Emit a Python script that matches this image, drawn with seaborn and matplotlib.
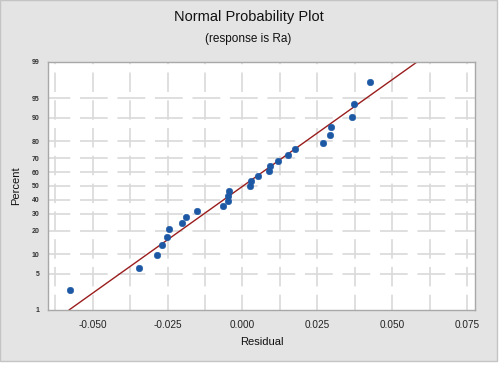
import numpy as np
import pandas as pd
import matplotlib
matplotlib.use("Agg")
import matplotlib.pyplot as plt
from matplotlib.patches import Rectangle
import seaborn as sns
from statistics import NormalDist

# ---- data ----
residual = [-0.0574, -0.0344, -0.0284, -0.0268, -0.0251, -0.0244, -0.0201,
            -0.0188, -0.0151, -0.0064, -0.0048, -0.0048, -0.0044, 0.0026,
            0.0029, 0.0052, 0.0089, 0.0092, 0.0119, 0.0152, 0.0176, 0.0269,
            0.0292, 0.0296, 0.0366, 0.0372, 0.0426]
percent = [2.55, 6.20, 9.85, 13.50, 17.15, 20.80, 24.45, 28.10, 31.75, 35.40,
           39.05, 42.70, 46.35, 50.00, 53.65, 57.30, 60.95, 64.60, 68.25,
           71.90, 75.55, 79.20, 82.85, 86.50, 90.15, 93.80, 97.45]
y_ticks = [1, 5, 10, 20, 30, 40, 50, 60, 70, 80, 90, 95, 99]
x_ticks = [-0.050, -0.025, 0.000, 0.025, 0.050, 0.075]
x_tick_labels = ["-0.050", "-0.025", "0.000", "0.025", "0.050", "0.075"]
x_grid = [-0.0625, -0.0375, -0.0125, 0.0125, 0.0375, 0.0625]

df = pd.DataFrame({"Residual": residual, "Percent": percent})

# normal fit line
nd = NormalDist()
mu = float(np.mean(residual))
sd = float(np.std(residual, ddof=1))
fit_x = np.array([mu + sd * nd.inv_cdf(0.01), mu + sd * nd.inv_cdf(0.99)])
fit_df = pd.DataFrame({"Residual": fit_x,
                       "Percent": [100 * NormalDist(mu, sd).cdf(v) for v in fit_x]})

# probit scale
_ppf = np.vectorize(nd.inv_cdf, otypes=[float])
_cdf = np.vectorize(nd.cdf, otypes=[float])

def fwd(p):
    p = np.clip(np.asarray(p, dtype=float) / 100.0, 1e-9, 1 - 1e-9)
    return _ppf(p)

def inv(z):
    z = np.asarray(z, dtype=float)
    return 100.0 * _cdf(z)

sns.set_theme(style="white")
plt.rcParams["font.family"] = ["Liberation Sans", "DejaVu Sans"]
plt.rcParams["lines.scale_dashes"] = False

W, H = 503, 366
fig = plt.figure(figsize=(W / 100, H / 100), dpi=100)
fig.patch.set_facecolor("white")
fig.patches.append(Rectangle((0, (H - 361) / H), 497 / W, 361 / H,
                             transform=fig.transFigure, facecolor="#e4e4e4",
                             edgecolor="#c4c4c4", linewidth=1.0, zorder=-10))

ax = fig.add_axes([48 / W, 56 / H, 427 / W, 248 / H])
ax.set_facecolor("white")
ax.set_yscale("function", functions=(fwd, inv))

grid_kw = dict(color="#d9d9d9", linewidth=1.2, zorder=0)
for gx in x_ticks + x_grid:
    ax.axvline(gx, linestyle=(3, (14, 6)), **grid_kw)
for gy in y_ticks[1:-1]:
    ax.axhline(gy, linestyle=(4, (20, 7)), **grid_kw)

sns.lineplot(data=fit_df, x="Residual", y="Percent", ax=ax, color="#9a1d1d",
             linewidth=1.0, zorder=2)
sns.scatterplot(data=df, x="Residual", y="Percent", ax=ax, color="#1c58a4",
                s=22, edgecolor="#1c58a4", linewidth=0.4, zorder=3)

ax.set_xlim(-0.0649, 0.0776)
ax.set_ylim(1, 99)
ax.set_yticks(y_ticks)
ax.set_yticklabels([str(v) for v in y_ticks], fontsize=5, fontweight="bold",
                   color="#333333")
ax.set_xticks(x_ticks)
ax.set_xticklabels(x_tick_labels, fontsize=7.2, color="#222222")
ax.minorticks_off()
ax.tick_params(axis="x", length=3, width=0.8, color="#a0a0a0", pad=4)
ax.tick_params(axis="y", length=2, width=0.8, color="#a0a0a0", pad=4)

for s in ax.spines.values():
    s.set_color("#a8a8a8")
    s.set_linewidth(1.0)

ax.set_xlabel("Residual", fontsize=8, color="#111111", labelpad=5)
ax.set_ylabel("Percent", fontsize=8, color="#111111", labelpad=8)

fig.text(248.5 / W, 1 - 17.5 / H, "Normal Probability Plot", ha="center",
         va="center", fontsize=10.5, color="#111111")
fig.text(248 / W, 1 - 39 / H, "(response is Ra)", ha="center", va="center",
         fontsize=8.5, color="#111111")

fig.savefig("out.png", dpi=100, facecolor=fig.get_facecolor())
